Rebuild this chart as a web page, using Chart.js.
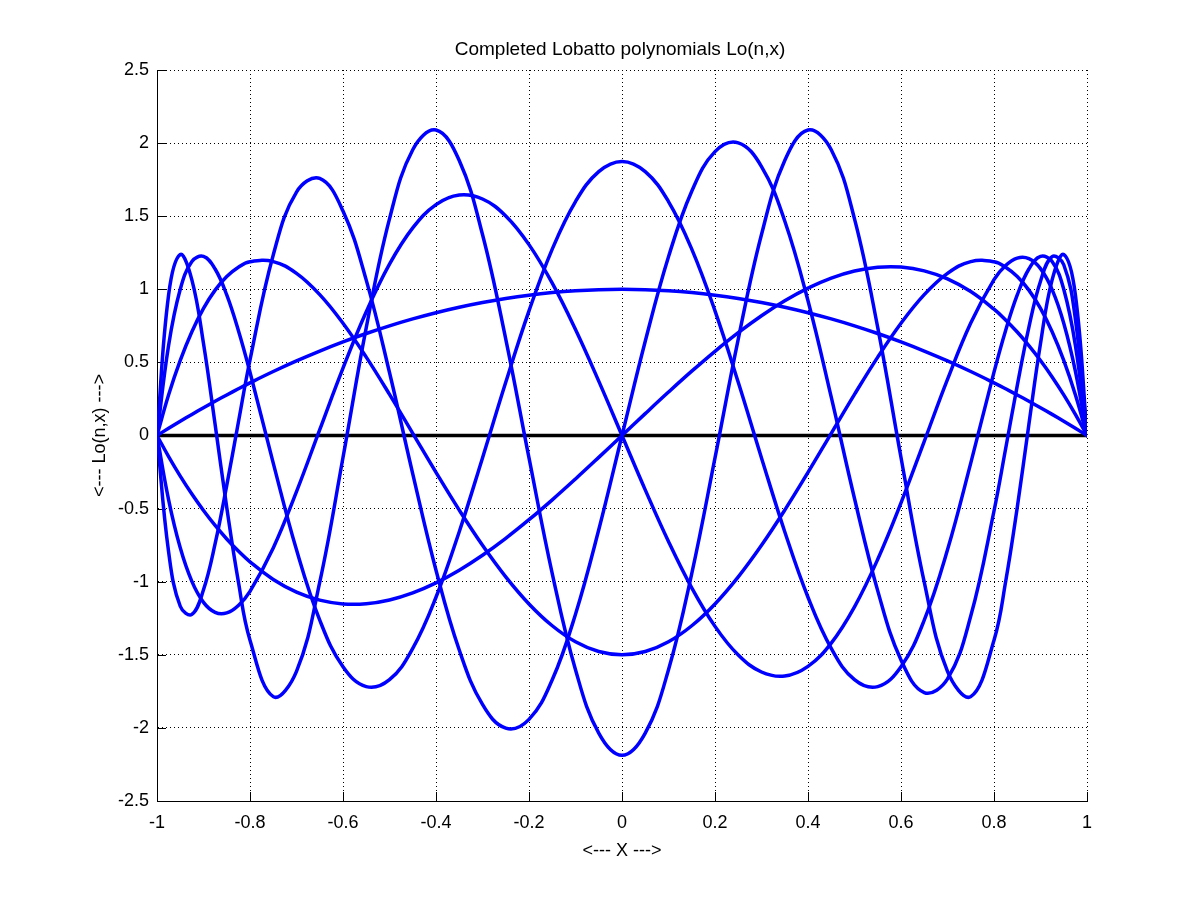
<!DOCTYPE html>
<html>
<head>
<meta charset="utf-8">
<title>Completed Lobatto polynomials Lo(n,x)</title>
<script src="https://cdn.jsdelivr.net/npm/chart.js@4.4.1/dist/chart.umd.min.js"></script>
<style>
  html, body { margin: 0; padding: 0; background: #ffffff; }
  #wrap { width: 1200px; height: 900px; }
</style>
</head>
<body>
<div id="wrap"><canvas id="c" width="1200" height="900"></canvas></div>
<script>
// ---- data ----
const xs = [-1,-0.975,-0.95,-0.925,-0.9,-0.875,-0.85,-0.825,-0.8,-0.75,-0.7,-0.65,-0.6,-0.55,-0.5,-0.45,-0.4,-0.35,-0.3,-0.25,-0.2,-0.15,-0.1,-0.05,0,0.05,0.1,0.15,0.2,0.25,0.3,0.35,0.4,0.45,0.5,0.55,0.6,0.65,0.7,0.75,0.8,0.825,0.85,0.875,0.9,0.925,0.95,0.975,1];

const lo1 = [0,0.0494,0.0975,0.1444,0.19,0.2344,0.2775,0.3194,0.36,0.4375,0.51,0.5775,0.64,0.6975,0.75,0.7975,0.84,0.8775,0.91,0.9375,0.96,0.9775,0.99,0.9975,1,0.9975,0.99,0.9775,0.96,0.9375,0.91,0.8775,0.84,0.7975,0.75,0.6975,0.64,0.5775,0.51,0.4375,0.36,0.3194,0.2775,0.2344,0.19,0.1444,0.0975,0.0494,0];

const lo2 = [0,-0.1444,-0.2779,-0.4006,-0.513,-0.6152,-0.7076,-0.7905,-0.864,-0.9844,-1.071,-1.1261,-1.152,-1.1509,-1.125,-1.0766,-1.008,-0.9214,-0.819,-0.7031,-0.576,-0.4399,-0.297,-0.1496,0,0.1496,0.297,0.4399,0.576,0.7031,0.819,0.9214,1.008,1.0766,1.125,1.1509,1.152,1.1261,1.071,0.9844,0.864,0.7905,0.7076,0.6152,0.513,0.4006,0.2779,0.1444,0];

const lo3 = [0,0.278,0.5137,0.7099,0.8693,0.9943,1.0875,1.1513,1.188,1.1895,1.1093,0.9637,0.768,0.5362,0.2813,0.015,-0.252,-0.5101,-0.7508,-0.9668,-1.152,-1.3013,-1.4108,-1.4775,-1.5,-1.4775,-1.4108,-1.3013,-1.152,-0.9668,-0.7508,-0.5101,-0.252,0.015,0.2813,0.5362,0.768,0.9637,1.1093,1.1895,1.188,1.1513,1.0875,0.9943,0.8693,0.7099,0.5137,0.278,0];

const lo4 = [0,-0.4398,-0.7682,-0.9981,-1.1414,-1.2096,-1.2133,-1.1622,-1.0656,-0.769,-0.3838,0.0399,0.4608,0.8464,1.1719,1.4198,1.5792,1.645,1.6175,1.5015,1.3056,1.042,0.7252,0.3719,0,-0.3719,-0.7252,-1.042,-1.3056,-1.5015,-1.6175,-1.645,-1.5792,-1.4198,-1.1719,-0.8464,-0.4608,-0.0399,0.3838,0.769,1.0656,1.1622,1.2133,1.2096,1.1414,0.9981,0.7682,0.4398,0];

const lo5 = [0,0.6174,0.9999,1.1898,1.2248,1.1388,0.9611,0.7183,0.4331,-0.1891,-0.7821,-1.263,-1.5821,-1.7176,-1.6699,-1.4562,-1.1063,-0.6579,-0.1534,0.3639,0.8525,1.275,1.6003,1.8051,1.875,1.8051,1.6003,1.275,0.8525,0.3639,-0.1534,-0.6579,-1.1063,-1.4562,-1.6699,-1.7176,-1.5821,-1.263,-0.7821,-0.1891,0.4331,0.7183,0.9611,1.1388,1.2248,1.1898,0.9999,0.6174,0];

const lo6 = [0,-0.7965,-1.168,-1.2236,-1.0554,-0.7403,-0.3413,0.091,0.5165,1.2348,1.665,1.7582,1.5354,1.0627,0.4307,-0.2621,-0.9215,-1.4675,-1.8398,-2.0019,-1.9418,-1.6711,-1.2223,-0.6448,0,0.6448,1.2223,1.6711,1.9418,2.0019,1.8398,1.4675,0.9215,0.2621,-0.4307,-1.0627,-1.5354,-1.7582,-1.665,-1.2348,-0.5165,-0.091,0.3413,0.7403,1.0554,1.2236,1.168,0.7965,0];

const lo7 = [0,0.9623,1.2375,1.0642,0.6292,0.0751,-0.4927,-1.0006,-1.4005,-1.786,-1.6128,-1.0026,-0.1502,0.7376,1.4817,1.9545,2.0893,1.8804,1.3748,0.6598,-0.1531,-0.9444,-1.6022,-2.0361,-2.1875,-2.0361,-1.6022,-0.9444,-0.1531,0.6598,1.3748,1.8804,2.0893,1.9545,1.4817,0.7376,-0.1502,-1.0026,-1.6128,-1.786,-1.4005,-1.0006,-0.4927,0.0751,0.6292,1.0642,1.2375,0.9623,0];

const zeroX = [-1, 1];
const zeroY = [0, 0];

const xTicks = [-1,-0.8,-0.6,-0.4,-0.2,0,0.2,0.4,0.6,0.8,1];
const xTickLabels = ['-1','-0.8','-0.6','-0.4','-0.2','0','0.2','0.4','0.6','0.8','1'];
const yTicks = [-2.5,-2,-1.5,-1,-0.5,0,0.5,1,1.5,2,2.5];
const yTickLabels = ['-2.5','-2','-1.5','-1','-0.5','0','0.5','1','1.5','2','2.5'];

const titleText = 'Completed Lobatto polynomials Lo(n,x)';
const xLabel = '<--- X --->';
const yLabel = '<--- Lo(n,x) --->';

// ---- chart ----
const FONT = '"Liberation Sans", Arial, Helvetica, sans-serif';
Chart.defaults.color = '#000000';
Chart.defaults.font.family = FONT;

function pts(xv, yv) { return xv.map((x, i) => ({ x: x, y: yv[i] })); }

const blueSeries = [lo1, lo2, lo3, lo4, lo5, lo6, lo7];
const datasets = [{
  label: 'Lo(0,x)',
  data: pts(zeroX, zeroY),
  borderColor: '#000000',
  borderWidth: 3.5,
  order: 20,
  tension: 0
}];
blueSeries.forEach((s, k) => {
  datasets.push({
    label: 'Lo(' + (k + 1) + ',x)',
    data: pts(xs, s),
    borderColor: '#0000ff',
    borderWidth: 3.5,
    order: 10 - k,
    tension: 0.4
  });
});

const inwardTicks = {
  id: 'inwardTicks',
  beforeDatasetsDraw(chart) {
    const { ctx, chartArea: a, scales } = chart;
    const L = 9;
    ctx.save();
    ctx.strokeStyle = '#000000';
    ctx.lineWidth = 1;
    ctx.setLineDash([]);
    ctx.beginPath();
    xTicks.forEach(v => {
      const px = Math.round(scales.x.getPixelForValue(v)) + 0.5;
      ctx.moveTo(px, a.bottom);
      ctx.lineTo(px, a.bottom - L);
    });
    yTicks.forEach(v => {
      const py = Math.round(scales.y.getPixelForValue(v)) + 0.5;
      ctx.moveTo(a.left, py);
      ctx.lineTo(a.left + L, py);
    });
    ctx.stroke();
    ctx.restore();
  }
};

new Chart(document.getElementById('c'), {
  type: 'line',
  data: { datasets: datasets },
  plugins: [inwardTicks],
  options: {
    responsive: false,
    animation: false,
    devicePixelRatio: 1,
    layout: { padding: { left: 40, right: 0, top: 0, bottom: 0 } },
    elements: {
      point: { radius: 0, hoverRadius: 0 },
      line: { borderCapStyle: 'round', borderJoinStyle: 'round', fill: false }
    },
    plugins: {
      legend: { display: false },
      tooltip: { enabled: false },
      title: {
        display: true,
        text: titleText,
        color: '#000000',
        font: { family: FONT, size: 19, weight: 'normal', lineHeight: 1.2 },
        padding: { top: 38.6, bottom: 8.6 }
      }
    },
    scales: {
      x: {
        type: 'linear',
        min: -1,
        max: 1,
        afterFit(s) { s.height = 99; },
        afterBuildTicks(s) { s.ticks = xTicks.map(v => ({ value: v })); },
        ticks: {
          padding: 11,
          color: '#000000',
          font: { family: FONT, size: 18 },
          maxRotation: 0,
          autoSkip: false,
          callback(v) { const i = xTicks.indexOf(v); return i >= 0 ? xTickLabels[i] : ''; }
        },
        grid: {
          color: '#000000',
          lineWidth: 1,
          drawTicks: false
        },
        border: { display: true, color: '#000000', width: 1, dash: [1, 3] },
        title: {
          display: true,
          text: xLabel,
          color: '#000000',
          font: { family: FONT, size: 18, lineHeight: 1.2 },
          padding: { top: 0, bottom: 38.2 }
        }
      },
      y: {
        type: 'linear',
        position: 'left',
        min: -2.5,
        max: 2.5,
        afterFit(s) { s.width = 117; },
        afterBuildTicks(s) { s.ticks = yTicks.map(v => ({ value: v })); },
        ticks: {
          padding: 8,
          color: '#000000',
          font: { family: FONT, size: 18 },
          autoSkip: false,
          callback(v) { const i = yTicks.indexOf(v); return i >= 0 ? yTickLabels[i] : ''; }
        },
        grid: {
          color: '#000000',
          lineWidth: 1,
          drawTicks: false
        },
        border: { display: true, color: '#000000', width: 1, dash: [1, 3] },
        title: {
          display: true,
          text: yLabel,
          color: '#000000',
          font: { family: FONT, size: 18, lineHeight: 1.2 },
          padding: { top: 49.2, bottom: 0 }
        }
      },
      yRightSpace: {
        type: 'linear',
        position: 'right',
        display: true,
        min: -2.5,
        max: 2.5,
        afterFit(s) { s.width = 113; },
        ticks: { display: false },
        grid: { display: false, drawTicks: false },
        border: { display: false },
        title: { display: false }
      }
    }
  }
});
</script>
</body>
</html>
